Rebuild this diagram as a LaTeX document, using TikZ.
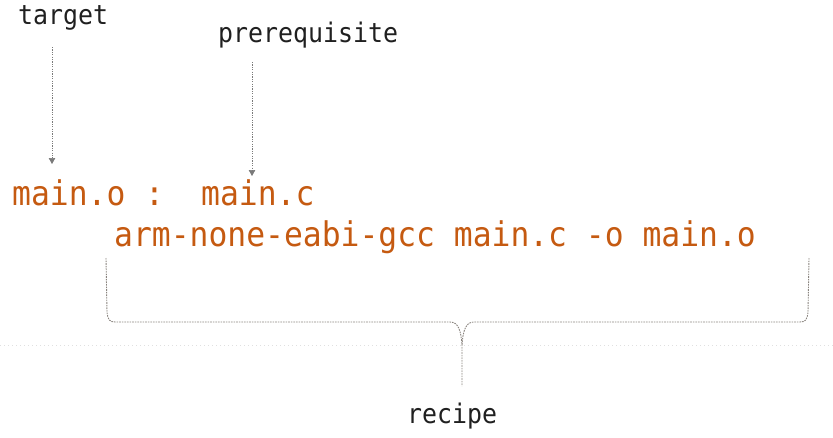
\documentclass[tikz,border=0pt]{standalone}
\usepackage{fontspec}
\usetikzlibrary{arrows.meta}
\newfontfamily\codefont[FakeStretch=0.922]{DejaVu Sans Mono}
\definecolor{codeorange}{HTML}{C55A11}
\definecolor{labelblack}{HTML}{202020}
\definecolor{arrowgray}{HTML}{7A7A7A}
\definecolor{bracegray}{HTML}{8A847F}
\tikzset{
  codetext/.style={anchor=base west, inner sep=0pt, text=codeorange, font=\codefont\fontsize{34}{40}\selectfont},
  labeltext/.style={anchor=base west, inner sep=0pt, text=labelblack, font=\codefont\fontsize{27}{32}\selectfont},
  pointer/.style={draw=arrowgray, line width=0.7pt, dash pattern=on 1.2pt off 1.2pt, -{Triangle[width=6.5pt,length=6pt]}},
  bracestyle/.style={draw=bracegray, line width=0.9pt, dash pattern=on 1.6pt off 1pt},
  faintline/.style={draw=black!12, line width=0.5pt, dash pattern=on 1pt off 3pt}
}
\begin{document}
\begin{tikzpicture}[x=1pt,y=-1pt]
\useasboundingbox (0,0) rectangle (833,437);
% labels
\node[labeltext] (tgt) at (18,24) {target};
\node[labeltext] (pre) at (218,42) {prerequisite};
\node[labeltext] (rec) at (407,423) {recipe};
% code
\node[codetext] (mo) at (12,205) {main.o};
\node[codetext] (colon) at (145,205) {:};
\node[codetext] (mc) at (201,205) {main.c};
\node[codetext] (cmd) at (114,246) {arm-none-eabi-gcc main.c -o main.o};
% pointers
\coordinate (t1) at (52,47);
\coordinate (t2) at (52,164);
\coordinate (p1) at (252,62);
\coordinate (p2) at (252,176);
\draw[pointer] (t1) -- (t2);
\draw[pointer] (p1) -- (p2);
% faint line
\coordinate (f1) at (0,345);
\coordinate (f2) at (833,345);
\draw[faintline] (f1) -- (f2);
% brace
\coordinate (bl) at (106,258);
\coordinate (br) at (809,258);
\coordinate (btip) at (462,386);
\draw[bracestyle] (bl) -- (107,312) .. controls (108,320) and (109,322) .. (116,322)
  -- (450,322) .. controls (458,322) and (461,330) .. (462,345) -- (btip);
\draw[bracestyle] (br) -- (808,312) .. controls (807,320) and (806,322) .. (799,322)
  -- (474,322) .. controls (466,322) and (463,330) .. (462,345);
\end{tikzpicture}
\end{document}
